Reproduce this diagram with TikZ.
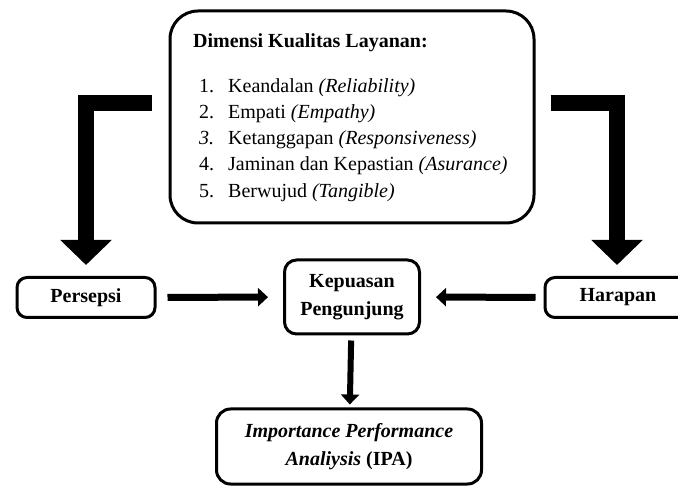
\documentclass[tikz,border=0pt]{standalone}
\usepackage{fontspec}
\setmainfont{Liberation Serif}
\usetikzlibrary{arrows.meta}
\begin{document}
\begin{tikzpicture}[x=1pt, y=-1pt,
    box/.style={draw, line width=3pt, rounded corners=10pt, align=center,
      font=\fontsize{20}{27}\selectfont\bfseries},
    fat/.style={line width=16pt, -{Triangle[length=25pt, width=50pt]}},
    slim/.style={line width=7pt, -{Triangle[length=10pt, width=18pt]}}]
  \useasboundingbox (0,0) rectangle (678,486);
  \node[box, rounded corners=28pt, minimum width=364pt, minimum height=212pt] (dim) at (352,117) {};
  \node[anchor=north west, inner sep=0pt, align=left, font=\fontsize{20}{26.2}\selectfont]
    (items) at (193,33) {\textbf{Dimensi Kualitas Layanan:}\\[19pt]
      \hspace{6pt}\makebox[29pt][l]{1.}Keandalan \textit{(Reliability)}\\
      \hspace{6pt}\makebox[29pt][l]{2.}Empati \textit{(Empathy)}\\
      \hspace{6pt}\makebox[29pt][l]{\textit{3.}}Ketanggapan \textit{(Responsiveness)}\\
      \hspace{6pt}\makebox[29pt][l]{4.}Jaminan dan Kepastian \textit{(Asurance)}\\
      \hspace{6pt}\makebox[29pt][l]{5.}Berwujud \textit{(Tangible)}};
  \node[box, minimum width=138pt, minimum height=40pt] (persepsi) at (86,297.5) {Persepsi};
  \node[box, minimum width=146pt, minimum height=40pt] (harapan) at (618,297.5) {Harapan};
  \node[box, rounded corners=12pt, minimum width=135pt, minimum height=74pt,
    font=\fontsize{20}{27.5}\selectfont\bfseries] (kepuasan) at (352,297) {Kepuasan\\Pengunjung};
  \node[box, rounded corners=14pt, minimum width=265pt, minimum height=75pt,
    font=\fontsize{20}{28}\selectfont] (ipa) at (349,446.5)
    {\textbf{\textit{Importance Performance}}\\\textbf{\textit{Analiysis}} \textbf{(IPA)}};
  \draw[fat, shorten <=17pt, shorten >=11pt] (dim.west |- 0,103.5) -| (persepsi.north);
  \draw[fat, shorten <=15pt, shorten >=11pt] (dim.east |- 0,103.5) -| ([xshift=-1pt]harapan.north);
  \draw[slim, shorten <=11pt, shorten >=15pt] (persepsi) -- (kepuasan);
  \draw[slim, shorten <=8pt, shorten >=15pt] (harapan) -- (kepuasan);
  \draw[slim, line width=6pt, shorten <=5pt, shorten >=3pt] (kepuasan) -- (ipa);
\end{tikzpicture}
\end{document}
